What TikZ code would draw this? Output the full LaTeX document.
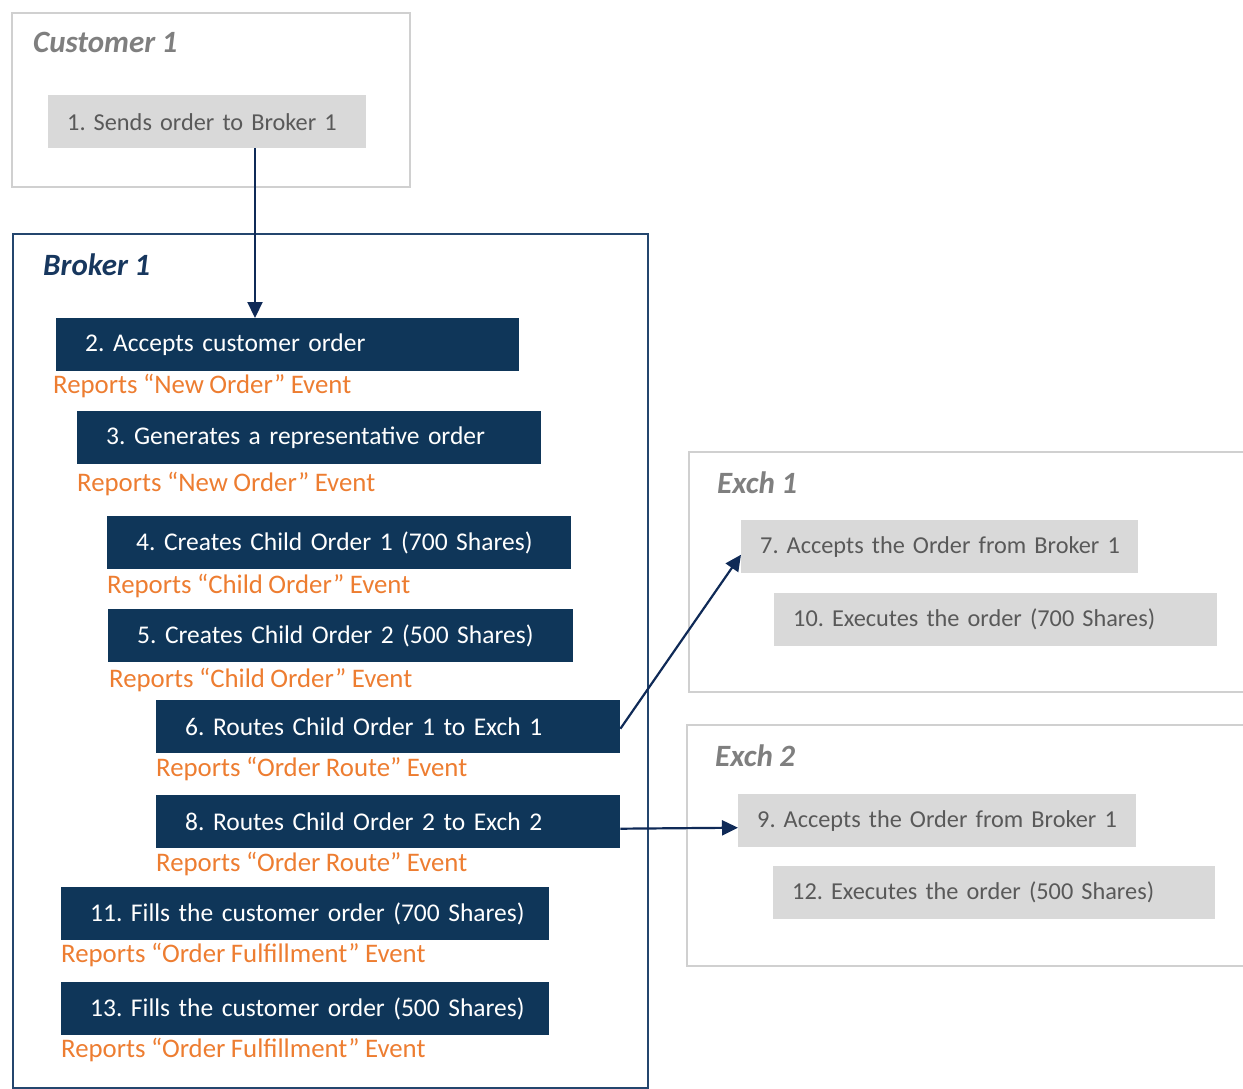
\documentclass[tikz,border=0pt]{standalone}
\usepackage{fontspec}
\setmainfont{Carlito}[WordSpace=0.9]
\usepackage{tikz}
\usetikzlibrary{arrows.meta, positioning, calc}
\usepackage{xcolor}
\definecolor{ordnavy}{HTML}{0F3659}
\definecolor{ordline}{HTML}{24466E}
\definecolor{ordtitle}{HTML}{17375E}
\definecolor{ordarrow}{HTML}{0F2A57}
\definecolor{ordgray}{HTML}{D9D9D9}
\definecolor{ordgraytext}{HTML}{595959}
\definecolor{ordframe}{HTML}{D0D0D0}
\definecolor{ordtitlegray}{HTML}{7F7F7F}
\definecolor{ordorange}{HTML}{ED7D31}

\tikzset{
  brokerbox/.style={fill=ordnavy, text=white, anchor=north west,
    minimum height=53pt, inner xsep=8pt, align=left,
    execute at begin node={\hspace*{21pt}},
    font=\fontsize{25.5}{30}\selectfont},
  exchbox/.style={fill=ordgray, text=ordgraytext, anchor=north west,
    minimum height=53pt, inner xsep=4pt, align=left,
    execute at begin node={\hspace*{15pt}},
    font=\fontsize{24.3}{30}\selectfont},
  report/.style={text=ordorange, anchor=west, inner sep=0pt,
    font=\fontsize{26.8}{30}\selectfont},
  boxtitle/.style={anchor=west, inner sep=0pt,
    font=\fontsize{31}{35}\selectfont\bfseries\itshape},
  flow/.style={ordarrow, line width=2.2pt,
    -{Triangle[length=16pt, width=15pt]}}
}

\begin{document}
\frenchspacing
\begin{tikzpicture}[x=1pt, y=-1pt]
  \useasboundingbox (0,0) rectangle (1243,1089);

  % Containers
  \draw[ordframe, line width=2.5pt] (12,13) rectangle (410,187);
  \draw[ordline, line width=2pt] (13,234) rectangle (648,1088);
  \draw[ordframe, line width=2.5pt] (689,452) rectangle (1250,692);
  \draw[ordframe, line width=2.5pt] (687,725) rectangle (1250,966);

  % Titles
  \node[boxtitle, ordtitlegray] (tcust) at (33,42) {Customer 1};
  \node[boxtitle, ordtitle] (tbroker) at (43,265) {Broker 1};
  \node[boxtitle, ordtitlegray] (texch1) at (717,483) {Exch 1};
  \node[boxtitle, ordtitlegray] (texch2) at (715,756) {Exch 2};

  % Customer
  \node[exchbox, text width=310pt] (s1) at (48,95) {1. Sends order to Broker 1};

  % Broker steps
  \node[brokerbox, text width=447pt] (s2) at (56,318) {2. Accepts customer order};
  \node[report] (r2) at (53,386) {Reports “New Order” Event};
  \node[brokerbox, text width=448pt] (s3) at (77,411) {3. Generates a representative order};
  \node[report] (r3) at (77,484) {Reports “New Order” Event};
  \node[brokerbox, text width=448pt] (s4) at (107,516) {4. Creates Child Order 1 (700 Shares)};
  \node[report] (r4) at (107,586) {Reports “Child Order” Event};
  \node[brokerbox, text width=449pt] (s5) at (108,609) {5. Creates Child Order 2 (500 Shares)};
  \node[report] (r5) at (109,680) {Reports “Child Order” Event};
  \node[brokerbox, text width=448pt] (s6) at (156,700) {6. Routes Child Order 1 to Exch 1};
  \node[report] (r6) at (156,769) {Reports “Order Route” Event};
  \node[brokerbox, text width=448pt] (s8) at (156,795) {8. Routes Child Order 2 to Exch 2};
  \node[report] (r8) at (156,864) {Reports “Order Route” Event};
  \node[brokerbox, text width=472pt] (s11) at (61,887) {11. Fills the customer order (700 Shares)};
  \node[report] (r11) at (61,955) {Reports “Order Fulfillment” Event};
  \node[brokerbox, text width=472pt] (s13) at (61,982) {13. Fills the customer order (500 Shares)};
  \node[report] (r13) at (61,1050) {Reports “Order Fulfillment” Event};

  % Exchange steps
  \node[exchbox, text width=389pt] (s7) at (741,520) {7. Accepts the Order from Broker 1};
  \node[exchbox, text width=435pt] (s10) at (774,593) {10. Executes the order (700 Shares)};
  \node[exchbox, text width=390pt] (s9) at (738,794) {9. Accepts the Order from Broker 1};
  \node[exchbox, text width=434pt] (s12) at (773,866) {12. Executes the order (500 Shares)};

  % Arrows
  \draw[flow] (s1.south -| 255,0) -- (s2.north -| 255,0);
  \draw[flow] ([yshift=-2pt]s6.east) -- ([yshift=-8pt]s7.west);
  \draw[flow] ([yshift=-7pt]s8.east) -- ([yshift=-7pt]s9.west);
\end{tikzpicture}
\end{document}
